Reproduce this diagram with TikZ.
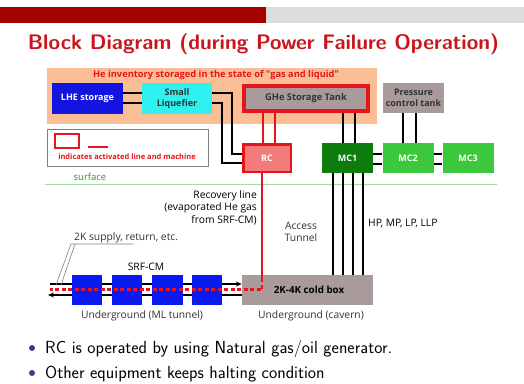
\documentclass[tikz,border=0pt]{standalone}
\usepackage{fontspec}
\newfontfamily\lab{Open Sans}
\usetikzlibrary{arrows.meta}
\definecolor{barred}{HTML}{A50000}
\definecolor{bargray}{HTML}{DCDCDC}
\definecolor{titlered}{HTML}{C8161D}
\definecolor{peach}{HTML}{F9BE94}
\definecolor{lheblue}{HTML}{1414E0}
\definecolor{liqcyan}{HTML}{30F0F0}
\definecolor{tankgray}{HTML}{A99A9C}
\definecolor{rcpink}{HTML}{F27C7C}
\definecolor{actred}{HTML}{E8141B}
\definecolor{mcdark}{HTML}{0C7C0C}
\definecolor{mclight}{HTML}{3CC83C}
\definecolor{surfgreen}{HTML}{A4DCA4}
\definecolor{srfblue}{HTML}{0A1AF0}
\definecolor{bulletblue}{HTML}{3C3C8C}
\definecolor{textgray}{HTML}{333333}
\begin{document}
\begin{tikzpicture}[x=1pt,y=-1pt,
  blk/.style={inner sep=0pt, minimum width=#1, font=\lab\bfseries\fontsize{9}{10.5}\selectfont, align=center},
  pipe/.style={line width=2.2pt, black},
  redpipe/.style={line width=2.2pt, actred},
  lbl/.style={font=\lab\fontsize{10.3}{12.5}\selectfont, text=black, inner sep=0pt},
  bul/.style={font=\sffamily\fontsize{17.5}{20}\selectfont, text=black, inner sep=0pt, anchor=base west}]
\useasboundingbox[fill=white] (0,0) rectangle (524,383);
% top bar
\fill[barred] (0,7) rectangle (266,23);
\fill[bargray] (266,7) rectangle (524,23);
\node[font=\sffamily\bfseries\fontsize{21}{24}\selectfont, text=titlered, inner sep=0pt] (title) at (263.5,44) {Block Diagram (during Power Failure Operation)};
% orange region
\fill[peach] (47,68) rectangle (377,124);
\node[font=\lab\bfseries\fontsize{9.3}{10}\selectfont, text=actred, inner sep=0pt] (inv) at (216,75) {He inventory storaged in the state of "gas and liquid"};
% boxes
\node[blk=71pt, minimum height=31pt, fill=lheblue, text=white] (lhe) at (87.5,98.5) {LHE storage};
\node[blk=70pt, minimum height=31pt, fill=liqcyan, text=textgray] (liq) at (177,98.5) {Small\\Liquefier};
\node[blk=124pt, minimum height=25pt, fill=tankgray, draw=actred, line width=4pt, text=textgray, font=\lab\bfseries\fontsize{9.3}{11}\selectfont] (ghe) at (306,98.5) {GHe Storage Tank};
\node[blk=61pt, minimum height=30pt, fill=tankgray, text=textgray, font=\lab\bfseries\fontsize{9}{11.5}\selectfont] (pct) at (413.5,98) {Pressure\\control tank};
\node[blk=47.5pt, minimum height=27.5pt, fill=rcpink, draw=actred, line width=2.5pt, text=white] (rc) at (267,158) {RC};
\node[blk=51pt, minimum height=30pt, fill=mcdark, text=white] (mc1) at (347.5,158) {MC1};
\node[blk=51pt, minimum height=30pt, fill=mclight, text=white] (mc2) at (408,158) {MC2};
\node[blk=51pt, minimum height=30pt, fill=mclight, text=white] (mc3) at (468,158) {MC3};
% legend
\node[draw=gray, line width=0.8pt, minimum width=161pt, minimum height=37pt, inner sep=0pt] (leg) at (127.5,147.5) {};
\node[draw=actred, line width=2.5pt, minimum width=24pt, minimum height=14pt, inner sep=0pt] (legbox) at (67,141) {};
\coordinate (lega) at (88,147);
\coordinate (legb) at (108,147);
\draw[actred, line width=2.2pt] (lega) -- (legb);
\node[font=\lab\bfseries\fontsize{7.5}{8}\selectfont, text=actred, inner sep=0pt] (legt) at (127,157) {indicates activated line and machine};
% surface
\node[font=\lab\fontsize{9.5}{11}\selectfont, text=mcdark!85!white, inner sep=0pt] (surf) at (90,177) {surface};
\coordinate (sl) at (45,184);
\coordinate (sr) at (497,184);
\draw[surfgreen, line width=1pt] (sl) -- (sr);
% connections top
\draw[pipe] (lhe.east |- 0,93) -- (liq.west |- 0,93);
\draw[pipe] (lhe.east |- 0,103) -- (liq.west |- 0,103);
\draw[pipe] (liq.east |- 0,93) -| (232,154) -- (rc.west |- 0,154);
\draw[pipe] (liq.east |- 0,103) -| (222,163) -- (rc.west |- 0,163);
\draw[redpipe] (ghe.south -| 263,0) -- (rc.north -| 263,0);
\draw[redpipe] (ghe.south -| 275,0) -- (rc.north -| 275,0);
\draw[pipe] (ghe.south -| 343,0) -- (mc1.north -| 343,0);
\draw[pipe] (ghe.south -| 355,0) -- (mc1.north -| 355,0);
\draw[pipe] (pct.south -| 403,0) -- (mc2.north -| 403,0);
\draw[pipe] (pct.south -| 416,0) -- (mc2.north -| 416,0);
\draw[pipe] (mc1.east |- 0,154) -- (mc2.west |- 0,154);
\draw[pipe] (mc1.east |- 0,164) -- (mc2.west |- 0,164);
\draw[pipe] (mc2.east |- 0,154) -- (mc3.west |- 0,154);
\draw[pipe] (mc2.east |- 0,164) -- (mc3.west |- 0,164);
% underground
\node[blk=131pt, minimum height=30pt, fill=tankgray, text=black, font=\lab\bfseries\fontsize{9.8}{11}\selectfont] (cold) at (307.5,290) {\hspace*{3pt}2K-4K cold box};
\foreach \x/\n in {87/a,127/b,167.5/c,207/d}
  \node[minimum width=30pt, minimum height=30pt, inner sep=0pt, fill=srfblue] (srf\n) at (\x,290) {};
\draw[pipe, -{Stealth[length=6pt,width=5pt]}] (50,284) -- (cold.west |- 0,284);
\draw[pipe, -{Stealth[length=6pt,width=5pt]}] (cold.west |- 0,295) -- (48,295);
\foreach \x/\n in {87/a,127/b,167.5/c,207/d}
  \fill[srfblue] (srf\n.north west) rectangle (srf\n.south east);
\draw[pipe] (mc1.south -| 333,0) -- (cold.north -| 333,0);
\draw[pipe] (mc1.south -| 343,0) -- (cold.north -| 343,0);
\draw[pipe] (mc1.south -| 353,0) -- (cold.north -| 353,0);
\draw[pipe] (mc1.south -| 363,0) -- (cold.north -| 363,0);
\coordinate (rk) at (262,278);
\coordinate (rd) at (262,289.5);
\coordinate (rl) at (50,289.5);
\draw[redpipe] (rc.south -| 262,0) -- (rk);
\draw[actred, line width=2.2pt, dash pattern=on 4pt off 2.5pt] (rk) -- (rd) -- (rl);
% labels
\node[lbl, align=right, anchor=north east] (recl) at (257,190) {Recovery line\\(evaporated He gas\\from SRF-CM)};
\node[lbl, align=center, text=textgray] (acc) at (301,232) {Access\\Tunnel};
\node[lbl, anchor=west] (hp) at (368,223) {HP, MP, LP, LLP};
\node[lbl] (srfl) at (146,267) {SRF-CM};
\node[lbl, anchor=west, text=textgray] (supl) at (74,238) {2K supply, return, etc.};
\coordinate (u1) at (71,244);
\coordinate (u2) at (133,244);
\coordinate (u3) at (75,244);
\coordinate (p1) at (56,285);
\coordinate (p2) at (61,285);
\draw[gray, line width=0.6pt] (u2) -- (u1) -- (p1);
\draw[gray, line width=0.6pt] (u3) -- (p2);
\node[lbl, text=textgray] (mlt) at (142,316) {Underground (ML tunnel)};
\node[lbl, text=textgray] (cav) at (311,316) {Underground (cavern)};
% bullets
\fill[bulletblue] (32,348) circle (3pt);
\fill[bulletblue] (32,373) circle (3pt);
\node[bul] (b1) at (45,353) {RC is operated by using Natural gas/oil generator.};
\node[bul] (b2) at (45,378) {Other equipment keeps halting condition};
\end{tikzpicture}
\end{document}
